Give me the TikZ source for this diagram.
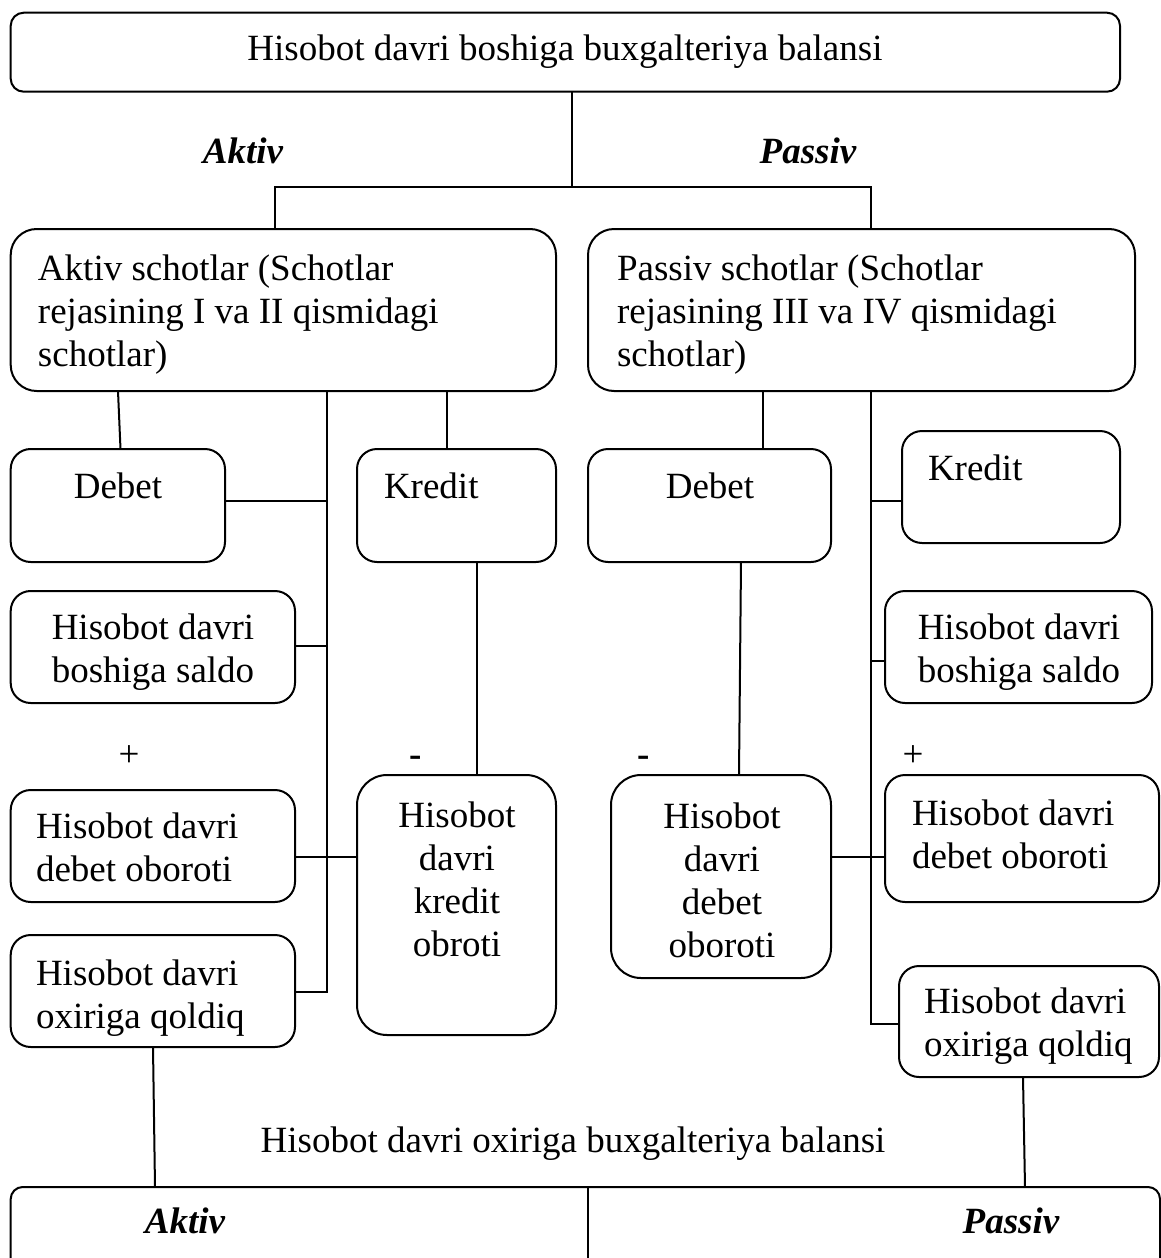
\documentclass[tikz,border=0pt]{standalone}
\usepackage{fontspec}
\setmainfont{Liberation Serif}
\usetikzlibrary{fit}
% multi-line text blocks whose baseline is the first line
\newcommand{\stackL}[1]{\begin{tabular}[t]{@{}l@{}}#1\end{tabular}}
\newcommand{\stackC}[1]{\begin{tabular}[t]{@{}c@{}}#1\end{tabular}}
\begin{document}
\begin{tikzpicture}[x=0.5pt,y=-0.5pt,
  box/.style={draw, line width=1pt, inner sep=0pt, outer sep=0pt, rounded corners=#1},
  box/.default=10pt,
  txt/.style={inner sep=0pt, outer sep=0pt, font=\fontsize{18.5}{21.5}\selectfont},
  head/.style={inner sep=0pt, outer sep=0pt, font=\fontsize{18.5}{21.5}\selectfont\bfseries\itshape},
  link/.style={line width=1pt}]
\useasboundingbox (0,0) rectangle (1161,1258);
\clip (0,0) rectangle (1161,1258);

% ---------- boxes ----------
\node[box=6.5pt, fit={(10.7,12.7) (1120,91.7)}] (top) {};
\node[box=13pt, fit={(10.7,229) (556,391)}] (AS) {};
\node[box=13pt, fit={(588,229) (1135,391)}] (PS) {};
\node[box, fit={(10.7,449) (225,562)}] (dL) {};
\node[box, fit={(357,449) (556,562)}] (kL) {};
\node[box, fit={(588,449) (831,562)}] (dR) {};
\node[box, fit={(902,431) (1120,543)}] (kR) {};
\node[box, fit={(10.7,591) (295,703)}] (sL) {};
\node[box, fit={(885,591) (1152,703)}] (sR) {};
\node[box, fit={(10.7,790) (295,902)}] (dbL) {};
\node[box=15pt, fit={(357,775) (556,1035)}] (koL) {};
\node[box=15pt, fit={(611,775) (831,978)}] (doC) {};
\node[box, fit={(885,775) (1159,902)}] (dbR) {};
\node[box, fit={(10.7,935) (295,1047)}] (oL) {};
\node[box, fit={(899,966) (1159,1077)}] (oR) {};
\node[box=6pt, fit={(10.7,1187) (1160,1330)}] (bot) {};

% ---------- texts ----------
\node[txt, anchor=base] (tTop) at (565,60) {Hisobot davri boshiga buxgalteriya balansi};
\node[head, anchor=base] (hA) at (243,163) {Aktiv};
\node[head, anchor=base] (hP) at (808,163) {Passiv};
\node[txt, anchor=base west] (tAS) at (38,280) {\stackL{Aktiv schotlar (Schotlar\\rejasining I va II qismidagi\\schotlar)}};
\node[txt, anchor=base west] (tPS) at (617,280) {\stackL{Passiv schotlar (Schotlar\\rejasining III va IV qismidagi\\schotlar)}};
\node[txt, anchor=base] (tdL) at (118,498) {Debet};
\node[txt, anchor=base west] (tkL) at (384,498) {Kredit};
\node[txt, anchor=base] (tdR) at (710,498) {Debet};
\node[txt, anchor=base west] (tkR) at (928,480) {Kredit};
\node[txt, anchor=base] (tsL) at (153,639) {\stackC{Hisobot davri\\boshiga saldo}};
\node[txt, anchor=base] (tsR) at (1019,639) {\stackC{Hisobot davri\\boshiga saldo}};
\node[txt, anchor=base] (plL) at (129,766) {+};
\node[txt, anchor=base] (mnL) at (416,766) {\bfseries -};
\node[txt, anchor=base] (mnR) at (644,766) {\bfseries -};
\node[txt, anchor=base] (plR) at (913,766) {+};
\node[txt, anchor=base west] (tdbL) at (36,838) {\stackL{Hisobot davri\\debet oboroti}};
\node[txt, anchor=base] (tkoL) at (457,827) {\stackC{Hisobot\\davri\\kredit\\obroti}};
\node[txt, anchor=base] (tdoC) at (722,828) {\stackC{Hisobot\\davri\\debet\\oboroti}};
\node[txt, anchor=base west] (tdbR) at (912,825) {\stackL{Hisobot davri\\debet oboroti}};
\node[txt, anchor=base west] (toL) at (36,985) {\stackL{Hisobot davri\\oxiriga qoldiq}};
\node[txt, anchor=base west] (toR) at (924,1013) {\stackL{Hisobot davri\\oxiriga qoldiq}};
\node[txt, anchor=base] (tBot) at (573,1152) {Hisobot davri oxiriga buxgalteriya balansi};
\node[head, anchor=base] (bA) at (185,1233) {Aktiv};
\node[head, anchor=base] (bP) at (1011,1233) {Passiv};

% ---------- junction points ----------
\coordinate (jT) at (572,187);
\coordinate (jL) at (275,187);
\coordinate (jR) at (871,187);
\coordinate (bL) at (327,992);
\coordinate (bR) at (871,1024);

% ---------- connectors ----------
\draw[link] (top.south -| jT) -- (jT);
\draw[link] (jL |- AS.north) -- (jL) -- (jR) -- (jR |- PS.north);
% left branch
\draw[link] (AS.south -| 118,0) -- (dL.north -| 120.5,0);
\draw[link] (AS.south -| bL) -- (bL) -- (bL -| oL.east);
\draw[link] (AS.south -| 447,0) -- (kL.north -| 447,0);
\draw[link] (dL.east |- 0,501) -- (bL |- 0,501);
\draw[link] (sL.east |- 0,646) -- (bL |- 0,646);
\draw[link] (dbL.east |- 0,857) -- (koL.west |- 0,857);
\draw[link] (kL.south -| 477,0) -- (koL.north -| 477,0);
\draw[link] (oL.south -| 153,0) -- (bot.north -| 155,0);
% right branch
\draw[link] (PS.south -| 763,0) -- (dR.north -| 763,0);
\draw[link] (PS.south -| bR) -- (bR) -- (bR -| oR.west);
\draw[link] (bR |- 0,501) -- (kR.west |- 0,501);
\draw[link] (bR |- 0,661) -- (sR.west |- 0,661);
\draw[link] (dR.south -| 741,0) -- (doC.north -| 739,0);
\draw[link] (doC.east |- 0,857) -- (dbR.west |- 0,857);
\draw[link] (oR.south -| 1023,0) -- (bot.north -| 1025,0);
% divider of the closing balance
\draw[link] (bot.north -| 588,0) -- (bot.south -| 588,0);
\end{tikzpicture}
\end{document}
